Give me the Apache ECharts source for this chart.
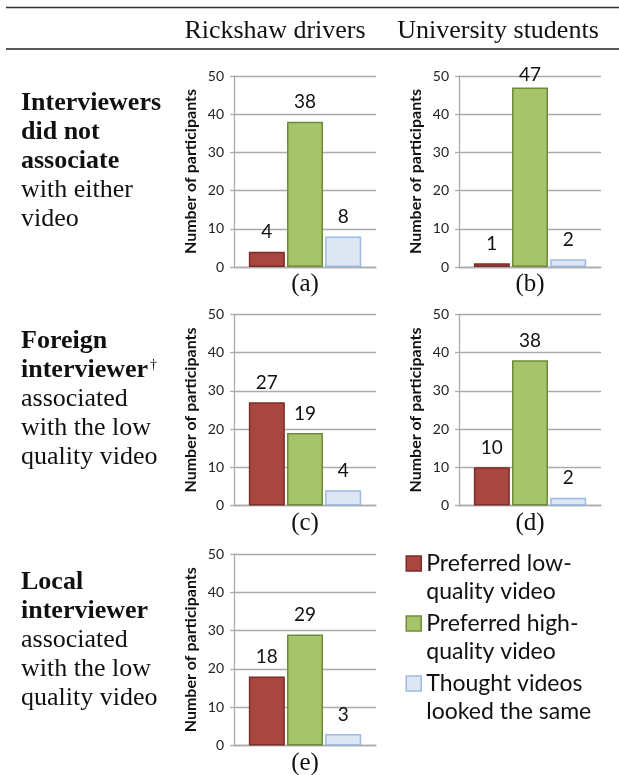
<!DOCTYPE html>
<html><head><meta charset="utf-8">
<script src="https://cdn.jsdelivr.net/npm/echarts@6/dist/echarts.min.js"></script>
<style>html,body{margin:0;padding:0;background:#fff}#c{width:619px;height:775px}</style>
</head><body><div id="c"></div>
<script>
// ---- data ----
const seriesNames = ['Preferred low-quality video', 'Preferred high-quality video', 'Thought videos looked the same'];
const legendLines = ['Preferred low-\nquality video', 'Preferred high-\nquality video', 'Thought videos\nlooked the same'];
const panelLabels = ['(a)', '(b)', '(c)', '(d)', '(e)'];
const lowQuality  = [4, 1, 27, 10, 18];
const highQuality = [38, 47, 19, 38, 29];
const lookedSame  = [8, 2, 4, 2, 3];
const yMin = 0, yMax = 50, yStep = 10;
const yAxisTitle = 'Number of participants';
const columnHeaders = ['Rickshaw drivers', 'University students'];
const rowHeads = [
  {bold: ['Interviewers', 'did not', 'associate'], normal: ['with either', 'video'], dagger: false},
  {bold: ['Foreign', 'interviewer'], normal: ['associated', 'with the low', 'quality video'], dagger: true},
  {bold: ['Local', 'interviewer'], normal: ['associated', 'with the low', 'quality video'], dagger: false}
];

// ---- layout / style ----
const gridBoxes = [
  {left: 234, top: 76, width: 142, height: 191},
  {left: 459, top: 76, width: 142, height: 191},
  {left: 234, top: 314.5, width: 142, height: 191},
  {left: 459, top: 314.5, width: 142, height: 191},
  {left: 234, top: 554, width: 142, height: 191.5}
];
const seriesStyles = [
  {color: '#A9463F', borderColor: '#7B2C29'},
  {color: '#A8C46B', borderColor: '#6E8A3B'},
  {color: '#DDE7F3', borderColor: '#9CBBE0'}
];
const rowHeadTops = [88.5, 327, 567.5];
const values = [lowQuality, highQuality, lookedSame];

const gridGray = '#ABABAB';
const grids = [], xAxes = [], yAxes = [], series = [];
gridBoxes.forEach((g, i) => {
  grids.push(Object.assign({outerBoundsMode: 'none', containLabel: false}, g));
  xAxes.push({
    type: 'category', gridIndex: i, data: [panelLabels[i]],
    axisLine: {show: true, lineStyle: {color: gridGray, width: 1.3}},
    axisTick: {show: false},
    axisLabel: {fontFamily: 'Liberation Serif', fontSize: 25, color: '#111', margin: 5}
  });
  yAxes.push({
    type: 'value', gridIndex: i, min: yMin, max: yMax, interval: yStep,
    name: yAxisTitle, nameLocation: 'middle', nameGap: 35, nameRotate: 90,
    nameTextStyle: {fontFamily: 'Lato', fontWeight: 'bold', fontSize: 16, color: '#111'},
    axisLine: {show: true, lineStyle: {color: gridGray, width: 1.3}},
    axisTick: {show: true, length: 4, lineStyle: {color: gridGray, width: 1.3}},
    axisLabel: {fontFamily: 'Lato', fontSize: 14, color: '#222', margin: 10},
    splitLine: {show: true, lineStyle: {color: gridGray, width: 1.3}}
  });
  const plotTop = g.top;
  values.forEach((arr, k) => {
    series.push({
      name: seriesNames[k], type: 'bar', xAxisIndex: i, yAxisIndex: i,
      data: [arr[i]], barWidth: 36, barGap: '6%',
      itemStyle: {color: seriesStyles[k].color, borderColor: seriesStyles[k].borderColor, borderWidth: 1.5},
      label: {show: true, position: 'top', distance: 10, fontFamily: 'Lato', fontSize: 19, color: '#111'},
      labelLayout: function (p) {
        const c = p.labelRect.y + p.labelRect.height / 2;
        return c < plotTop - 1 ? {dy: plotTop - 1 - c} : {};
      },
      emphasis: {disabled: true}, animation: false
    });
  });
});

const graphics = [
  {type: 'line', shape: {x1: 6, y1: 7.5, x2: 619, y2: 7.5}, style: {stroke: '#333', lineWidth: 1.5}},
  {type: 'line', shape: {x1: 6, y1: 49, x2: 619, y2: 49}, style: {stroke: '#222', lineWidth: 1.5}},
  {type: 'text', x: 275, y: 31, style: {text: columnHeaders[0], font: '26px "Liberation Serif"', fill: '#111', textAlign: 'center', textVerticalAlign: 'middle'}},
  {type: 'text', x: 498, y: 31, style: {text: columnHeaders[1], font: '26px "Liberation Serif"', fill: '#111', textAlign: 'center', textVerticalAlign: 'middle'}}
];
rowHeads.forEach((r, i) => {
  const lines = r.bold.map((t, j) => '{b|' + t + '}' + (r.dagger && j === r.bold.length - 1 ? '{s|†}' : ''))
    .concat(r.normal.map(t => '{n|' + t + '}'));
  graphics.push({
    type: 'text', x: 21, y: rowHeadTops[i],
    style: {
      text: lines.join('\n'), fill: '#111',
      rich: {
        b: {fontFamily: 'Liberation Serif', fontWeight: 'bold', fontSize: 26, lineHeight: 29, fill: '#111'},
        n: {fontFamily: 'Liberation Serif', fontSize: 26, lineHeight: 29, fill: '#111'},
        s: {fontFamily: 'Liberation Serif', fontSize: 14, lineHeight: 29, verticalAlign: 'top', fill: '#111', padding: [2, 0, 0, 2]}
      }
    }
  });
});

const chart = echarts.init(document.getElementById('c'), null, {renderer: 'canvas'});
chart.setOption({
  animation: false,
  backgroundColor: '#fff',
  grid: grids, xAxis: xAxes, yAxis: yAxes, series: series,
  legend: {
    orient: 'vertical', left: 405.5, top: 520, padding: 0,
    itemWidth: 15, itemHeight: 15, itemGap: -27, icon: 'rect',
    data: seriesNames, selectedMode: false,
    formatter: n => '\n' + legendLines[seriesNames.indexOf(n)],
    itemStyle: {borderWidth: 1.5},
    textStyle: {fontFamily: 'Lato', fontSize: 23, lineHeight: 28, color: '#111', padding: [3, 0, 0, 0]}
  },
  graphic: graphics
});
</script></body></html>
